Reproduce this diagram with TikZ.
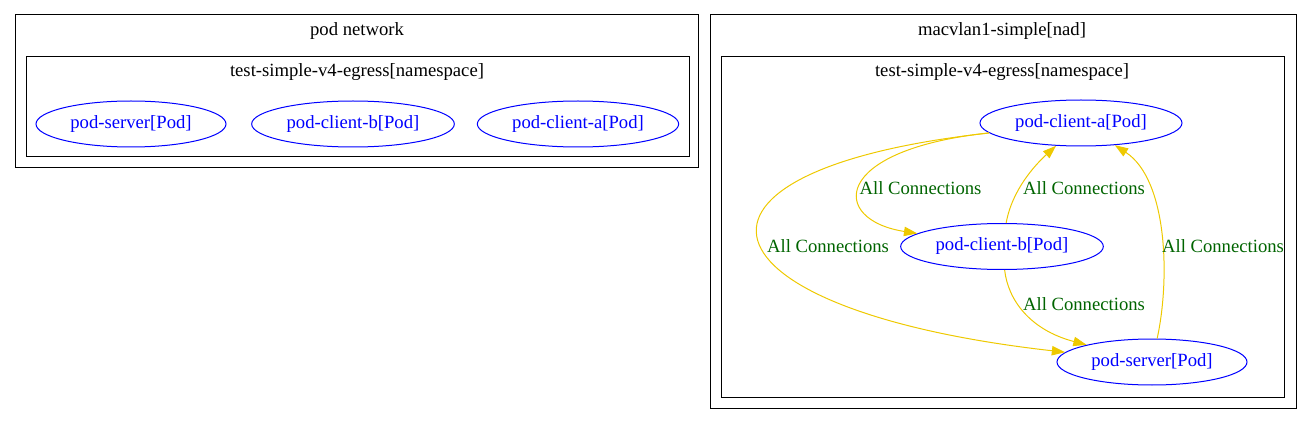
\documentclass[tikz,border=0pt]{standalone}
\usepackage{fontspec}
\setmainfont{Liberation Serif}
\usepackage{tikz}
\usepackage{xcolor}
\usetikzlibrary{shapes.geometric, arrows.meta, positioning}

\definecolor{edgegold}{RGB}{238,201,0}
\definecolor{lblgreen}{RGB}{0,100,0}

\tikzset{
  pod/.style={ellipse, draw=blue, text=blue, line width=0.75pt, inner sep=0pt, minimum height=34.5pt},
  cluster/.style={draw=black, line width=0.75pt},
  conn/.style={draw=edgegold, line width=0.75pt, -{Triangle[length=10pt,width=7pt]}},
  lbl/.style={text=lblgreen, inner sep=0pt}
}

\begin{document}
\begin{tikzpicture}[x=0.75pt, y=-0.75pt, font=\fontsize{14pt}{16pt}\selectfont]
  \useasboundingbox (0,0) rectangle (1311,424);
  % pod network cluster
  \draw[cluster] (15,15) rectangle (698,168);
  \node (podnet) at (357,31) {pod network};
  \draw[cluster] (26,57) rectangle (689,157);
  \node (nsleft) at (357,72) {test-simple-v4-egress[namespace]};
  % pods on the pod network
  \node[pod, minimum width=142.5pt] (svL) at (131,124) {pod-server[Pod]};
  \node[pod, minimum width=152pt] (cbL) at (353,124) {pod-client-b[Pod]};
  \node[pod, minimum width=151pt] (caL) at (578,124) {pod-client-a[Pod]};
  % macvlan cluster
  \draw[cluster] (710,15) rectangle (1296,408);
  \node (nad) at (1002,31) {macvlan1-simple[nad]};
  \draw[cluster] (721,57) rectangle (1284,397);
  \node (nsright) at (1002,72) {test-simple-v4-egress[namespace]};
  % pods on the macvlan network
  \node[pod, minimum width=151.5pt] (ca) at (1081,123) {pod-client-a[Pod]};
  \node[pod, minimum width=152pt] (cb) at (1002,246.5) {pod-client-b[Pod]};
  \node[pod, minimum width=142.5pt] (sv) at (1152,362) {pod-server[Pod]};
  % connections
  \draw[conn] (ca) .. controls (830,150) and (830,220) .. (cb);
  \draw[conn] (ca) .. controls (650,170) and (690,310) .. (sv);
  \draw[conn] (cb) .. controls (1012,190) and (1035,165) .. (ca);
  \draw[conn] (cb) .. controls (1008,300) and (1030,330) .. (sv);
  \draw[conn] (sv) .. controls (1170,280) and (1168,180) .. (ca);
  % connection labels
  \node[lbl] (l1) at (920.5,188) {All Connections};
  \node[lbl] (l2) at (828,246) {All Connections};
  \node[lbl] (l3) at (1084,188) {All Connections};
  \node[lbl] (l4) at (1084,304) {All Connections};
  \node[lbl] (l5) at (1223,246) {All Connections};
\end{tikzpicture}
\end{document}
